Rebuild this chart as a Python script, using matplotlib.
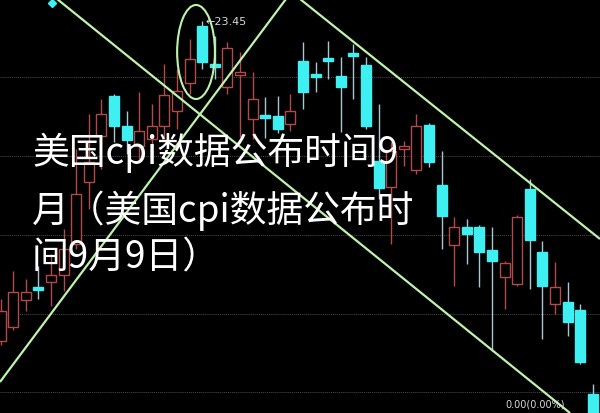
import matplotlib
matplotlib.use("Agg")
import matplotlib.pyplot as plt
from matplotlib.patches import Ellipse
import numpy as np

# daily candles (price units), left to right
opens = [20.25, 20.39, 20.66, 20.79, 20.84, 20.91, 21.22, 21.84, 22.30, 22.70,
         22.40, 22.20, 22.27, 22.40, 22.55, 22.83, 23.40, 23.02, 22.79, 22.91,
         22.47, 22.51, 22.50, 22.42, 23.05, 22.92, 23.08, 22.90, 23.13, 23.01,
         22.05, 21.79, 22.17, 21.96, 22.41, 21.81, 21.21, 21.39, 21.39, 21.16,
         20.89, 20.82, 21.77, 21.14, 20.62, 20.64, 20.56, 19.72]
closes = [20.55, 20.74, 20.74, 20.77, 20.91, 21.17, 21.72, 22.04, 22.52, 22.40,
          22.26, 22.35, 22.40, 22.71, 22.75, 23.07, 23.04, 22.99, 23.18, 22.93,
          22.67, 22.49, 22.37, 22.55, 22.74, 22.90, 23.06, 22.79, 23.11, 22.40,
          21.78, 22.15, 22.19, 22.40, 22.04, 21.50, 21.39, 21.32, 21.14, 21.05,
          21.03, 21.49, 21.26, 20.80, 20.79, 20.44, 20.04, 19.45]
highs = [20.67, 20.95, 20.87, 21.00, 21.12, 21.37, 22.17, 22.52, 22.67, 22.72,
         22.55, 22.74, 22.62, 23.02, 22.97, 23.27, 23.45, 23.30, 23.24, 23.14,
         22.94, 22.69, 22.70, 22.72, 23.24, 23.04, 23.25, 23.09, 23.22, 23.09,
         22.62, 22.24, 22.25, 22.52, 22.43, 22.15, 21.49, 21.47, 21.41, 21.39,
         21.05, 21.51, 21.87, 21.25, 21.04, 20.84, 20.62, 19.82]
lows = [20.21, 20.36, 20.55, 20.67, 20.60, 20.75, 21.17, 21.57, 21.97, 22.24,
        22.12, 22.07, 22.12, 22.27, 22.37, 22.72, 22.97, 22.87, 22.72, 22.29,
        22.27, 22.28, 22.33, 22.35, 22.57, 22.74, 22.87, 22.34, 22.67, 22.37,
        21.67, 21.22, 22.00, 21.92, 21.99, 21.17, 20.80, 21.02, 20.79, 20.15,
        20.57, 20.80, 20.77, 20.27, 20.52, 20.30, 20.02, 19.42]

grid_levels = [22.89, 22.10, 21.31, 20.52, 19.74]
peak_label = "23.45"

# hand-drawn trend lines: (x0, p0, x1, p1) in candle index / price
trend_lines = [(4.48, 23.67, 45.19, 19.53),
               (-0.05, 19.84, 22.65, 23.67),
               (23.76, 23.67, 47.57, 21.27)]

title_lines = ["美国cpi数据公布时间9", "月（美国cpi数据公布时", "间9月9日）"]

UP = "#b24a4a"
DOWN = "#3ff0f2"
DOWN_WICK = "#a9c6d4"
GREEN = "#bff3ad"

fig = plt.figure(figsize=(6, 4.14), dpi=100, facecolor="black")
ax = fig.add_axes([0, 0, 1, 1])
ax.set_facecolor("black")
ax.set_xlim(-0.048, 47.57)
ax.set_ylim(19.53, 23.67)
ax.axis("off")

for g in grid_levels:
    ax.axhline(g, color="#4a4a4a", linestyle=(0, (1, 1)), linewidth=0.7, zorder=1)

x = np.arange(len(opens))
o = np.array(opens); c = np.array(closes)
h = np.array(highs); l = np.array(lows)
up = c >= o

ax.vlines(x[up], l[up], h[up], color=UP, linewidth=1.0, zorder=2)
ax.vlines(x[~up], l[~up], h[~up], color=DOWN_WICK, linewidth=1.0, zorder=2)

body = np.where(np.abs(c - o) < 0.03, 0.03 * np.sign(c - o + 1e-9), c - o)
ax.bar(x[up], body[up], bottom=o[up], width=0.8, facecolor="black",
       edgecolor=UP, linewidth=1.0, zorder=3)
ax.bar(x[~up], body[~up], bottom=o[~up], width=0.8, facecolor=DOWN,
       edgecolor=DOWN, linewidth=1.0, zorder=3)

for x0, p0, x1, p1 in trend_lines:
    ax.plot([x0, x1], [p0, p1], color=GREEN, linewidth=1.6, zorder=4,
            solid_capstyle="butt")

ax.add_patch(Ellipse((15.51, 23.14), 3.0, 0.94, angle=0, fill=False,
                     edgecolor=GREEN, linewidth=1.5, zorder=4))

ax.plot([4.08], [23.63], marker="D", markersize=4, color=DOWN, zorder=5)

ax.text(16.25, float(peak_label), "←" + peak_label, color="#d8d8d8", fontsize=8,
        va="center", ha="left", zorder=6)

ys = [153, 211, 258]
for line, yp in zip(title_lines, ys):
    ax.text(32 / 600, 1 - yp / 414, line, transform=ax.transAxes,
            color="white", fontsize=26.5, fontweight="medium", va="center", ha="left",
            family=["Noto Sans CJK SC", "DejaVu Sans"], zorder=7)

ax.text(505 / 600, 1 - 405 / 414, "0.00(0.00%)", transform=ax.transAxes,
        color="#d8d8d8", fontsize=7, va="center", ha="left", zorder=6)

plt.savefig("out.png", dpi=100, facecolor="black")
plt.close()
